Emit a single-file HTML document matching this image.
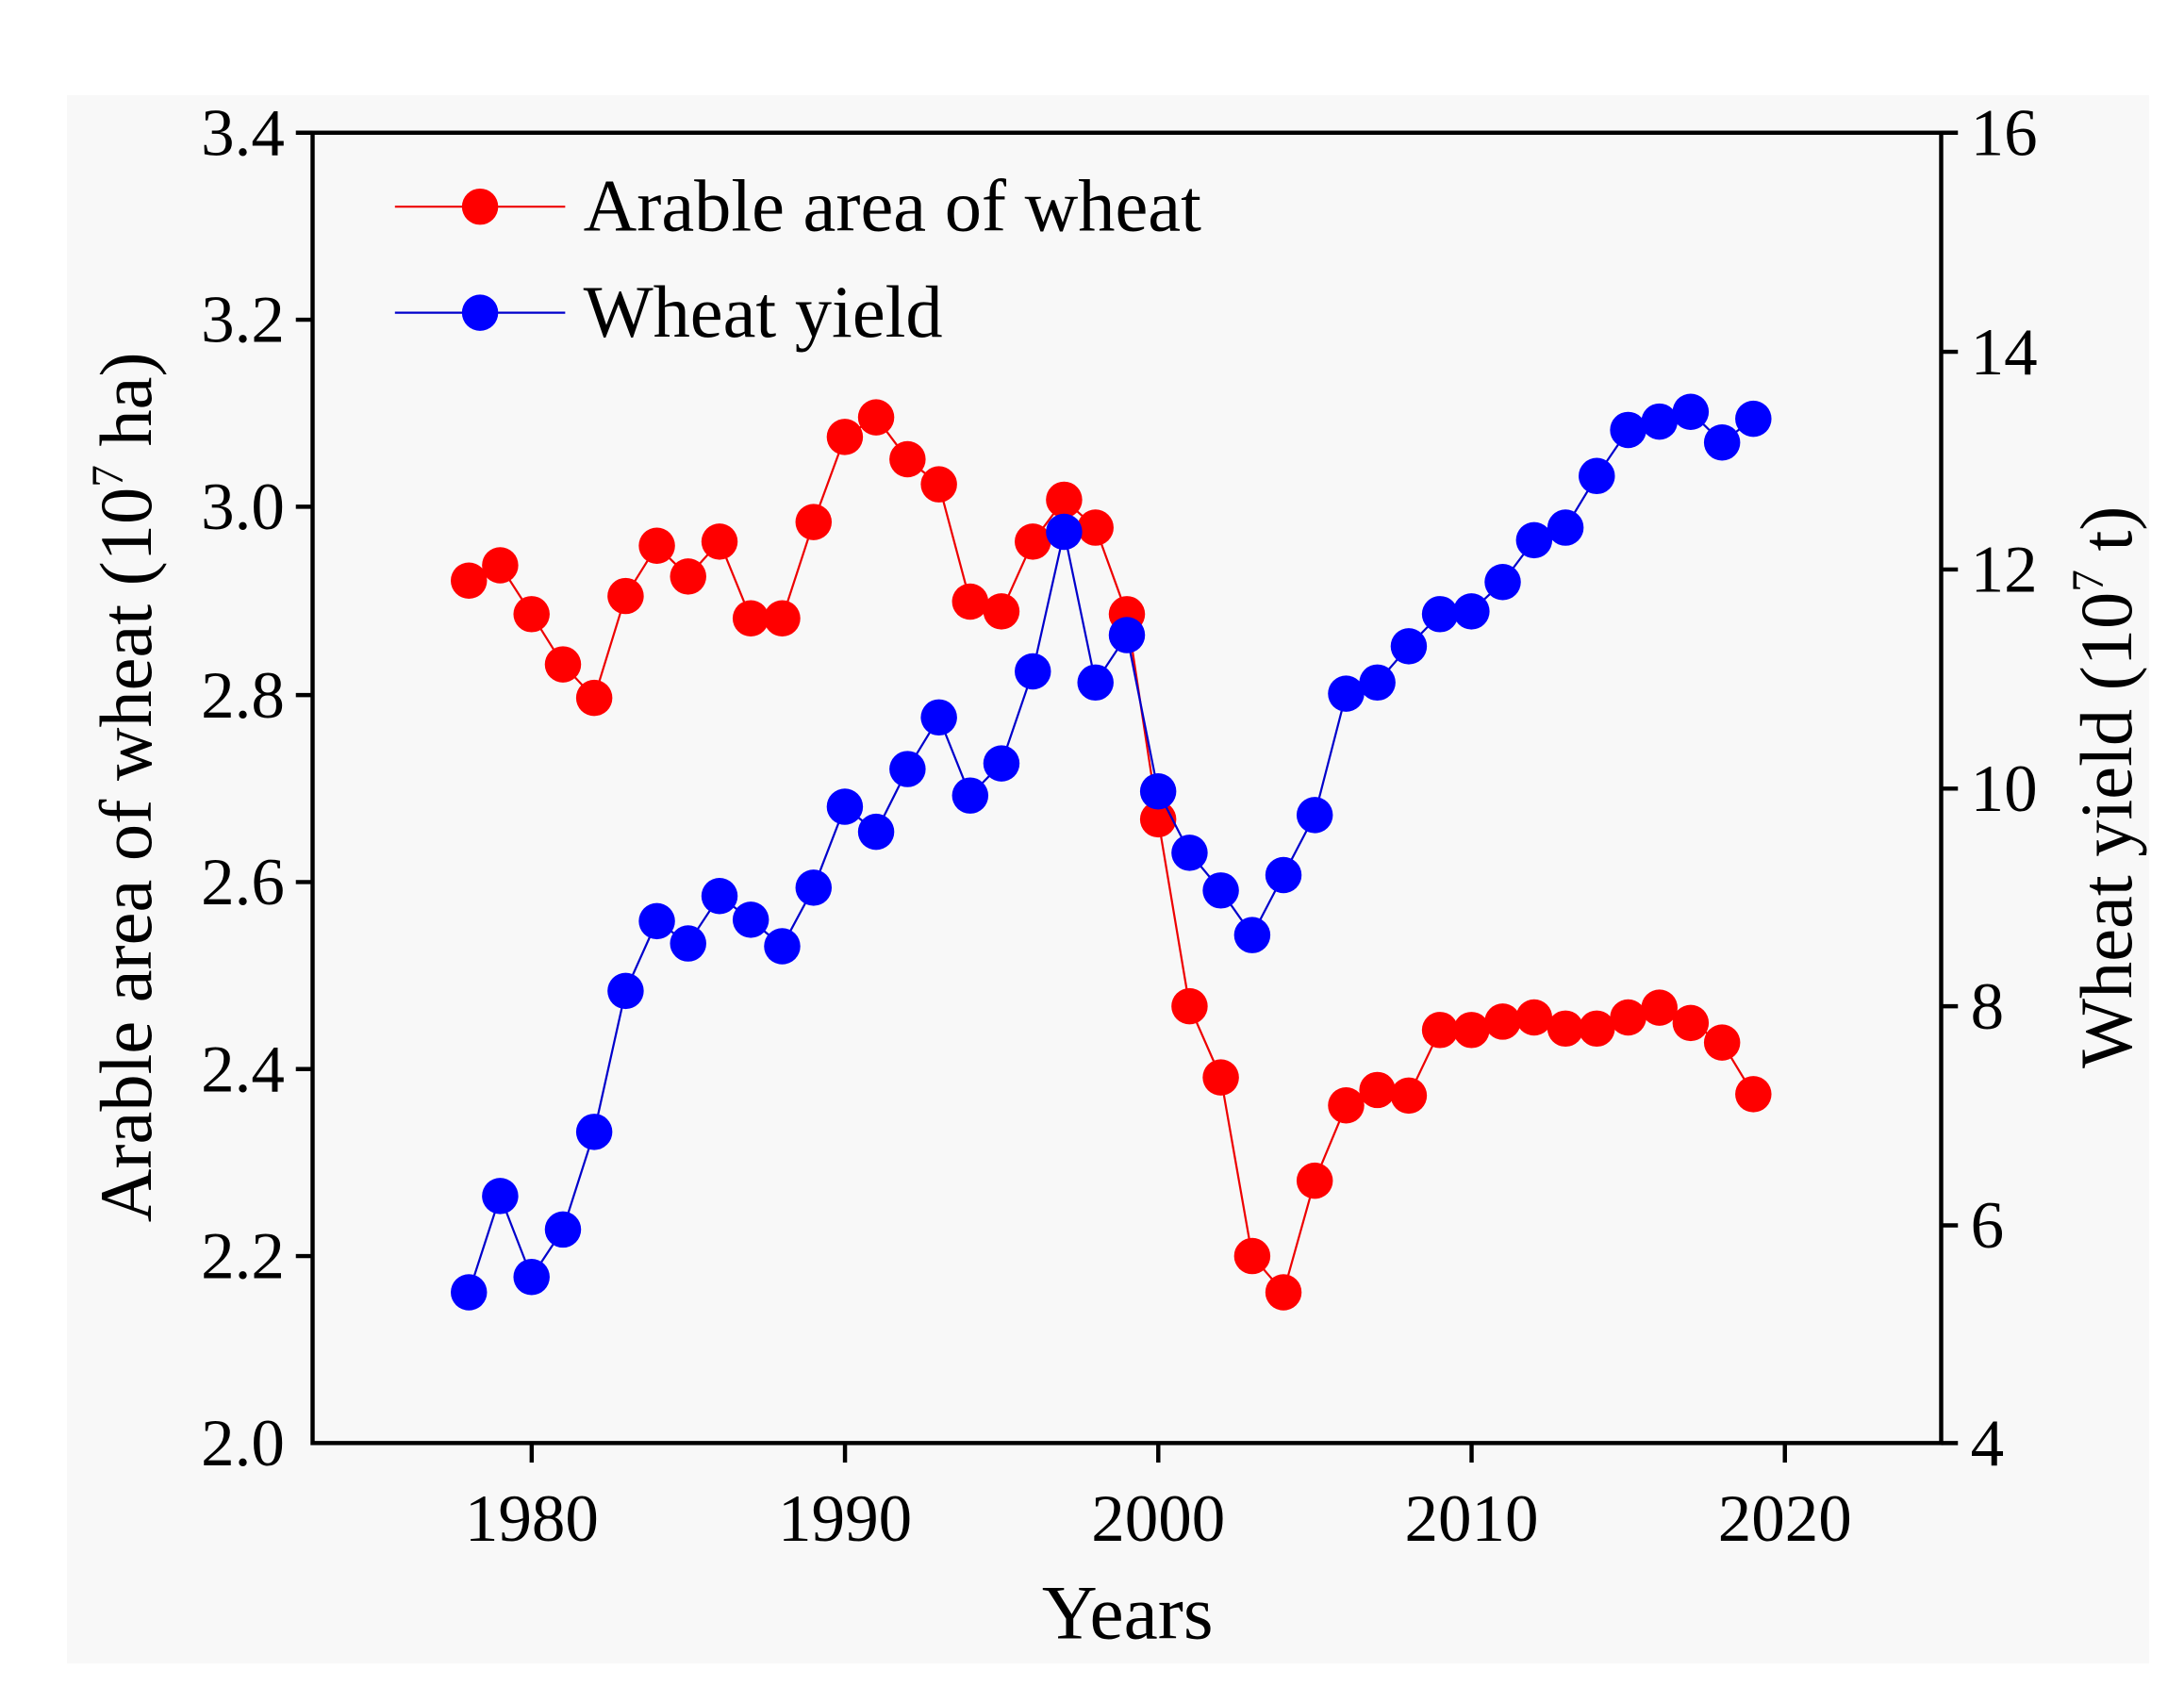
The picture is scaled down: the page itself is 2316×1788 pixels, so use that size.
<!DOCTYPE html>
<html><head><meta charset="utf-8"><style>html,body{margin:0;padding:0;background:#fff}svg{display:block}</style></head>
<body>
<svg id="s" xmlns="http://www.w3.org/2000/svg" width="2316" height="1788" viewBox="0 0 1565 1208" font-family="Liberation Serif, serif">
<rect x="0" y="0" width="1565" height="1208" fill="#ffffff"/>
<rect x="48" y="68" width="1492" height="1124" fill="#f8f8f8"/>
<rect x="224" y="95" width="1167" height="939" fill="none" stroke="#000" stroke-width="3"/>
<g stroke="#000" stroke-width="3">
<line x1="212" y1="95" x2="224" y2="95"/><line x1="212" y1="229" x2="224" y2="229"/><line x1="212" y1="363" x2="224" y2="363"/><line x1="212" y1="498" x2="224" y2="498"/><line x1="212" y1="632" x2="224" y2="632"/><line x1="212" y1="766" x2="224" y2="766"/><line x1="212" y1="900" x2="224" y2="900"/>
<line x1="1391" y1="95" x2="1403" y2="95"/><line x1="1391" y1="252" x2="1403" y2="252"/><line x1="1391" y1="408" x2="1403" y2="408"/><line x1="1391" y1="565" x2="1403" y2="565"/><line x1="1391" y1="721" x2="1403" y2="721"/><line x1="1391" y1="878" x2="1403" y2="878"/><line x1="1391" y1="1034" x2="1403" y2="1034"/>
<line x1="381" y1="1034" x2="381" y2="1048"/><line x1="605.5" y1="1034" x2="605.5" y2="1048"/><line x1="830" y1="1034" x2="830" y2="1048"/><line x1="1054.5" y1="1034" x2="1054.5" y2="1048"/><line x1="1279" y1="1034" x2="1279" y2="1048"/>
</g>
<g font-size="48" text-anchor="end" fill="#000">
<text x="204" y="111">3.4</text><text x="204" y="245">3.2</text><text x="204" y="379">3.0</text><text x="204" y="514">2.8</text><text x="204" y="648">2.6</text><text x="204" y="782">2.4</text><text x="204" y="916">2.2</text><text x="204" y="1050">2.0</text>
</g>
<g font-size="48" text-anchor="start" fill="#000">
<text x="1412" y="111">16</text><text x="1412" y="268">14</text><text x="1412" y="424">12</text><text x="1412" y="581">10</text><text x="1412" y="737">8</text><text x="1412" y="894">6</text><text x="1412" y="1050">4</text>
</g>
<g font-size="48" text-anchor="middle" fill="#000">
<text x="381" y="1104">1980</text><text x="605.5" y="1104">1990</text><text x="830" y="1104">2000</text><text x="1054.5" y="1104">2010</text><text x="1279" y="1104">2020</text>
</g>
<text x="808" y="1174" font-size="55" text-anchor="middle">Years</text>
<text transform="translate(108,564) rotate(-90)" font-size="53" text-anchor="middle">Arable area of wheat (10<tspan font-size="32" dy="-20">7</tspan><tspan dy="20"> ha)</tspan></text>
<text transform="translate(1527,564) rotate(-90)" font-size="53" text-anchor="middle">Wheat yield (10<tspan font-size="32" dy="-20">7</tspan><tspan dy="20"> t)</tspan></text>
<line x1="283" y1="148" x2="405" y2="148" stroke="#e00" stroke-width="1.5"/>
<circle cx="344" cy="148" r="13" fill="#f00"/>
<text x="418" y="165" font-size="53">Arable area of wheat</text>
<line x1="283" y1="224" x2="405" y2="224" stroke="#00c" stroke-width="1.5"/>
<circle cx="344" cy="224" r="13" fill="#00f"/>
<text x="418" y="241" font-size="53">Wheat yield</text>
<g id="g"></g>
</svg>
<script>
var red=[416,405,440,476,500,427,391,413,388,443,443,374,313,299,329,347,431,438,388,358,378,440,587,721,772,900,926,846,792,781,785,738,738,732,729,737,737,729,722,733,747,784];
var blue=[926,857,915,881,811,710,660,676,642,659,678,636,578,596,551,514,570,547,481,381,489,455,567,611,638,670,627,584,497,489,463,440,438,417,387,378,341,308,302,295,317,300];
var g=document.getElementById('g'),h='';
function ser(d,lc,fc){var p=d.map(function(y,i){return (336+i*22.45).toFixed(1)+','+y}).join(' ');
h+='<polyline points="'+p+'" fill="none" stroke="'+lc+'" stroke-width="1.5"/>';
d.forEach(function(y,i){h+='<circle cx="'+(336+i*22.45).toFixed(1)+'" cy="'+y+'" r="13" fill="'+fc+'"/>';});}
ser(red,'#e00','#f00');ser(blue,'#00c','#00f');
g.innerHTML=h;
</script>
</body></html>
